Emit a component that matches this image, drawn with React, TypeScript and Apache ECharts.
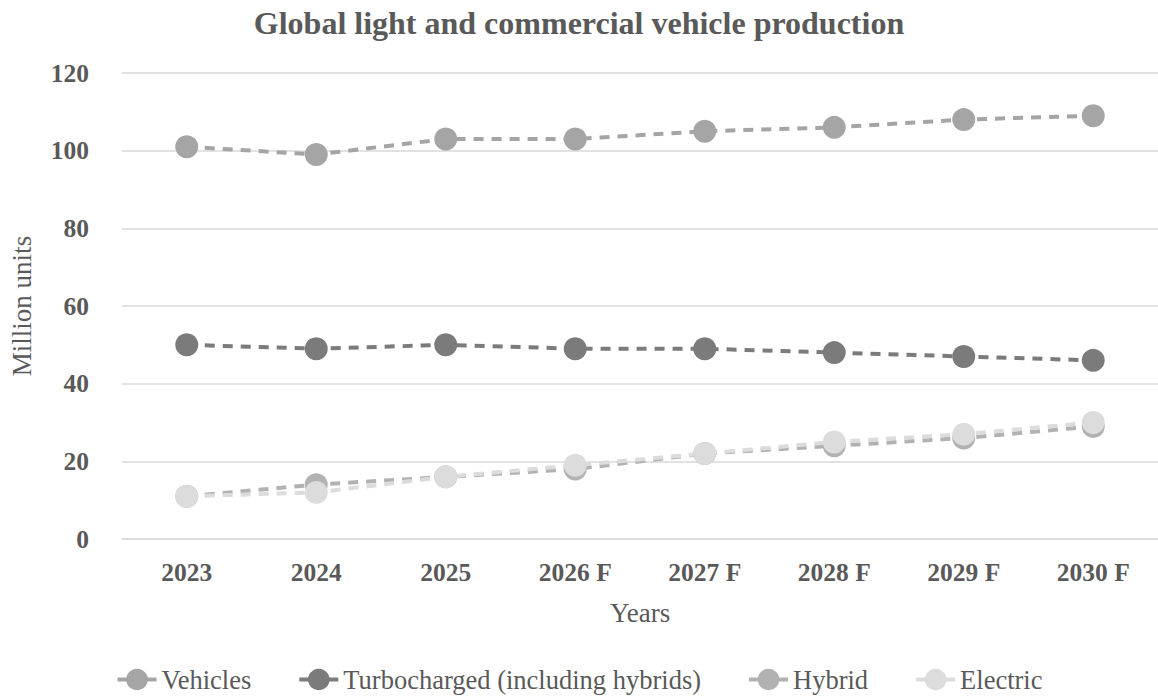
import React, { useEffect, useRef } from "react";
import * as echarts from "echarts";

const categories = ["2023", "2024", "2025", "2026 F", "2027 F", "2028 F", "2029 F", "2030 F"];
const vehicles = [101, 99, 103, 103, 105, 106, 108, 109];
const turbocharged = [50, 49, 50, 49, 49, 48, 47, 46];
const hybrid = [11, 14, 16, 18, 22, 24, 26, 29];
const electric = [11, 12, 16, 19, 22, 25, 27, 30];

const seriesDefs = [
  { name: "Vehicles", data: vehicles, color: "#A5A5A5" },
  { name: "Turbocharged (including hybrids)", data: turbocharged, color: "#7B7B7B" },
  { name: "Hybrid", data: hybrid, color: "#B2B2B2" },
  { name: "Electric", data: electric, color: "#DCDCDC" },
];

const FONT = "'Liberation Serif', 'Times New Roman', serif";

export default function App() {
  const ref = useRef<HTMLDivElement>(null);
  useEffect(() => {
    if (!ref.current) return;
    const chart = echarts.init(ref.current, null, { renderer: "svg" });
    chart.setOption({
      animation: false,
      textStyle: { fontFamily: FONT },
      title: {
        text: "Global light and commercial vehicle production",
        left: "center",
        top: 2,
        textStyle: { fontFamily: FONT, fontSize: 32, fontWeight: "bold", color: "#595959" },
      },
      legend: {
        top: 661,
        left: "center",
        itemWidth: 39,
        itemHeight: 27,
        itemGap: 46,
        lineStyle: { type: "solid", width: 4 },
        textStyle: { fontFamily: FONT, fontSize: 26.5, color: "#595959" },
        data: seriesDefs.map((s) => s.name),
      },
      grid: { left: 121, top: 73, width: 1040, height: 466 },
      xAxis: {
        type: "category",
        data: categories,
        name: "Years",
        nameLocation: "middle",
        nameGap: 60,
        nameTextStyle: { fontFamily: FONT, fontSize: 27, color: "#595959" },
        axisLine: { lineStyle: { color: "#D9D9D9", width: 1.5 } },
        axisTick: { show: false },
        axisLabel: { margin: 20, fontFamily: FONT, fontSize: 25.5, fontWeight: "bold", color: "#595959" },
      },
      yAxis: {
        type: "value",
        min: 0,
        max: 120,
        interval: 20,
        name: "Million units",
        nameLocation: "middle",
        nameGap: 87,
        nameTextStyle: { fontFamily: FONT, fontSize: 27, color: "#595959" },
        axisLine: { show: false },
        axisTick: { show: false },
        axisLabel: { margin: 33, fontFamily: FONT, fontSize: 25.5, fontWeight: "bold", color: "#595959" },
        splitLine: { lineStyle: { color: "#D9D9D9", width: 1.5 } },
      },
      series: seriesDefs.map((s) => ({
        name: s.name,
        type: "line",
        data: s.data,
        symbol: "circle",
        symbolSize: 23,
        color: s.color,
        itemStyle: { color: s.color },
        lineStyle: { color: s.color, width: 4, type: [10, 8] },
      })),
    });
    return () => chart.dispose();
  }, []);
  return (
    <div
      ref={ref}
      style={{ position: "fixed", left: 0, top: 0, width: 1158, height: 696, background: "#fff" }}
    />
  );
}
